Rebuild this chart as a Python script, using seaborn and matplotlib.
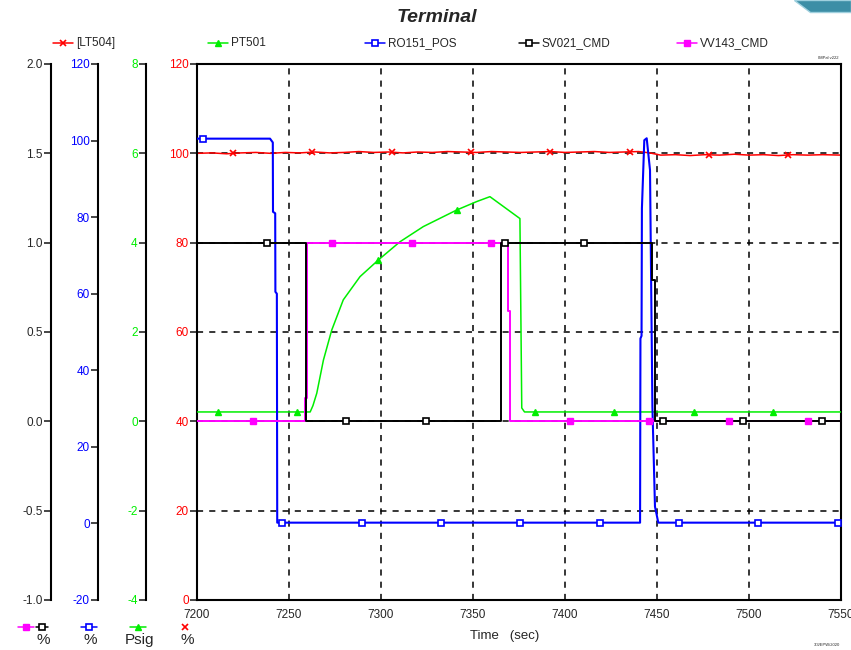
import numpy as np
import matplotlib.pyplot as plt
import seaborn as sns
from matplotlib.lines import Line2D
from matplotlib.patches import Polygon

# trend values (time in sec)
lt504_t = [7200, 7208, 7216, 7224, 7232, 7240, 7248, 7256, 7264, 7272, 7280, 7288, 7296, 7304,
           7312, 7320, 7328, 7336, 7344, 7352, 7360, 7368, 7376, 7384, 7392, 7400, 7408, 7416,
           7424, 7432, 7440, 7446, 7452, 7460, 7468, 7476, 7484, 7492, 7500, 7508, 7516, 7524,
           7532, 7540, 7550]
lt504_v = [100.0, 100.1, 99.9, 100.1, 100.2, 100.0, 100.2, 100.1, 100.3, 100.1, 100.2, 100.4,
           100.2, 100.3, 100.1, 100.3, 100.2, 100.4, 100.3, 100.2, 100.4, 100.3, 100.2, 100.3,
           100.4, 100.2, 100.3, 100.4, 100.2, 100.3, 100.4, 100.1, 99.6, 99.7, 99.5, 99.7, 99.6,
           99.8, 99.6, 99.7, 99.5, 99.7, 99.6, 99.7, 99.6]

pt501_t = [7200, 7261.5, 7263.0, 7265.1, 7268.7, 7273.2, 7279.5, 7288.6, 7298.5, 7310.3,
           7323.0, 7341.1, 7352.0, 7359.2, 7375.5, 7376.5, 7378.0, 7550]
pt501_v = [0.21, 0.21, 0.35, 0.63, 1.37, 2.04, 2.72, 3.24, 3.61, 4.02, 4.36, 4.73, 4.92,
           5.03, 4.54, 0.30, 0.21, 0.21]

ro151_t = [7200, 7239.7, 7241.2, 7241.3, 7242.5, 7242.6, 7243.4, 7243.6, 7440.8, 7441.0,
           7441.6, 7441.8, 7443.1, 7444.4, 7446.2, 7447.5, 7448.9, 7450.7, 7550]
ro151_v = [100.5, 100.5, 99.5, 81.4, 81.0, 60.5, 60.0, 0.2, 0.2, 48.3, 49.0, 82.3, 100.1,
           100.6, 92.3, 30.5, 4.4, 0.2, 0.2]

sv021_t = [7200, 7259.5, 7259.5, 7365.0, 7365.0, 7447.1, 7447.1, 7448.9, 7448.9, 7550]
sv021_v = [1, 1, 0, 0, 1, 1, 0.79, 0.79, 0, 0]

vv143_t = [7200, 7258.9, 7258.9, 7259.6, 7259.6, 7369.2, 7369.2, 7370.1, 7370.1, 7550]
vv143_v = [0, 0, 0.13, 0.13, 1, 1, 0.62, 0.62, 0, 0]

# symbol positions on each trace
lt504_mk_t = [7219.6, 7262.7, 7305.8, 7348.9, 7392.0, 7435.1, 7478.2, 7521.3]
lt504_mk_v = [100.0, 100.2, 100.2, 100.3, 100.2, 100.3, 99.6, 99.7]
pt501_mk_t = [7211.4, 7254.5, 7298.5, 7341.1, 7383.8, 7426.9, 7470.0, 7513.1]
pt501_mk_v = [0.21, 0.21, 3.61, 4.73, 0.21, 0.21, 0.21, 0.21]
ro151_mk_t = [7203.3, 7246.4, 7289.5, 7332.6, 7375.7, 7418.8, 7461.9, 7505.0, 7548.1]
ro151_mk_v = [100.5, 0.2, 0.2, 0.2, 0.2, 0.2, 0.2, 0.2, 0.2]
sv021_mk_t = [7238.0, 7281.1, 7324.2, 7367.3, 7410.4, 7453.5, 7496.6, 7539.7]
sv021_mk_v = [1, 0, 0, 1, 1, 0, 0, 0]
vv143_mk_t = [7230.4, 7273.5, 7316.6, 7359.7, 7402.8, 7445.9, 7489.0, 7532.1]
vv143_mk_v = [0, 1, 1, 1, 0, 0, 0, 0]

names = ['[LT504]', 'PT501', 'RO151_POS', 'SV021_CMD', 'VV143_CMD']

RED, GREEN, BLUE, BLACK, MAG = '#ff0000', '#00ee00', '#0000ff', '#000000', '#ff00ff'

sns.set_style('white')
plt.rcParams['font.family'] = ['Liberation Sans', 'DejaVu Sans']
plt.rcParams['axes.unicode_minus'] = False

fig = plt.figure(figsize=(8.51, 6.5), dpi=100)
ax = fig.add_axes([197 / 851, 50 / 650, 644 / 851, 536 / 650])

# red axis is the main one, the others hang off to the left
ax_g = ax.twinx()
ax_b = ax.twinx()
ax_k = ax.twinx()
for a, pos in [(ax_g, -0.0792), (ax_b, -0.1537), (ax_k, -0.2267)]:
    a.spines['left'].set_position(('axes', pos))
    a.spines['left'].set_visible(True)
    a.spines['left'].set_linewidth(1.5)
    a.spines['left'].set_color('black')
    for s in ['right', 'top', 'bottom']:
        a.spines[s].set_visible(False)
    a.yaxis.set_ticks_position('left')
    a.yaxis.set_label_position('left')
    a.tick_params(axis='y', direction='out', length=5, width=1.2, pad=1, labelsize=8.5)

for s in ax.spines.values():
    s.set_linewidth(1.5)
    s.set_color('black')

ax.set_xlim(7200, 7550)
ax.set_ylim(0, 120)
ax.set_xticks(np.arange(7200, 7551, 50))
ax.set_yticks(np.arange(0, 121, 20))
ax.tick_params(axis='x', direction='inout', length=9, width=1.2, labelsize=8.5, pad=2)
ax.tick_params(axis='y', direction='out', length=5, width=1.2, labelsize=8.5, pad=1,
               labelcolor=RED)
ax.grid(True, linestyle=(0, (4, 4)), color='black', linewidth=1.1)

ax_g.set_ylim(-4, 8)
ax_g.set_yticks(np.arange(-4, 9, 2))
ax_g.tick_params(axis='y', labelcolor=GREEN)
ax_b.set_ylim(-20, 120)
ax_b.set_yticks(np.arange(-20, 121, 20))
ax_b.tick_params(axis='y', labelcolor=BLUE)
ax_k.set_ylim(-1, 2)
ax_k.set_yticks(np.arange(-1, 2.01, 0.5))
ax_k.set_yticklabels([f'{v:.1f}' for v in np.arange(-1, 2.01, 0.5)])

# traces
sns.lineplot(x=lt504_t, y=lt504_v, ax=ax, color=RED, lw=1.1, estimator=None, sort=False)
sns.lineplot(x=pt501_t, y=pt501_v, ax=ax_g, color=GREEN, lw=1.1, estimator=None, sort=False)
sns.lineplot(x=vv143_t, y=vv143_v, ax=ax_k, color=MAG, lw=1.4, estimator=None, sort=False)
sns.lineplot(x=sv021_t, y=sv021_v, ax=ax_k, color=BLACK, lw=1.4, estimator=None, sort=False)
sns.lineplot(x=ro151_t, y=ro151_v, ax=ax_b, color=BLUE, lw=1.5, estimator=None, sort=False)

mk_style = {
    'red': dict(marker='x', color=RED, ms=5, mew=1.2),
    'green': dict(marker='^', color=GREEN, ms=5),
    'blue': dict(marker='s', color=BLUE, mfc='white', ms=5, mew=1.2),
    'black': dict(marker='s', color=BLACK, mfc='white', ms=5, mew=1.2),
    'mag': dict(marker='s', color=MAG, ms=4.5),
}
ax.plot(lt504_mk_t, lt504_mk_v, ls='none', **mk_style['red'])
ax_g.plot(pt501_mk_t, pt501_mk_v, ls='none', **mk_style['green'])
ax_k.plot(vv143_mk_t, vv143_mk_v, ls='none', **mk_style['mag'])
ax_k.plot(sv021_mk_t, sv021_mk_v, ls='none', **mk_style['black'])
ax_b.plot(ro151_mk_t, ro151_mk_v, ls='none', **mk_style['blue'])

for a in [ax, ax_g, ax_b, ax_k]:
    a.set_xlabel('')
    a.set_ylabel('')
ax.set_xlim(7200, 7550)


def key(x0, x1, y, **kw):
    # short line with its symbol in the middle, figure pixel coords
    fig.add_artist(Line2D([x0 / 851, (x0 + x1) / 2 / 851, x1 / 851], [1 - y / 650] * 3,
                          transform=fig.transFigure, markevery=[1], lw=1.1, **kw))


# legend row at the top
for x0, c, name in zip([53, 208, 365, 519, 677], ['red', 'green', 'blue', 'black', 'mag'], names):
    key(x0, x0 + 20, 43, **mk_style[c])
    fig.text((x0 + 23) / 851, 1 - 43 / 650, name, fontsize=8.5, ha='left', va='center')

fig.text(437 / 851, 1 - 17 / 650, 'Terminal', fontsize=14, fontweight='bold',
         fontstyle='italic', ha='center', va='center')
fig.text(505 / 851, 1 - 636 / 650, 'Time   (sec)', fontsize=9.5, ha='center', va='center')

# unit keys under each axis
key(18, 34, 627, **mk_style['mag'])
key(36, 48, 627, **mk_style['black'])
key(81, 97, 627, **mk_style['blue'])
key(130, 146, 627, **mk_style['green'])
fig.add_artist(Line2D([185 / 851], [1 - 627 / 650], transform=fig.transFigure, ls='none',
                      **mk_style['red']))
for x, t in [(43, '%'), (90, '%'), (139, 'Psig'), (187, '%')]:
    fig.text(x / 851, 1 - 640 / 650, t, fontsize=11, ha='center', va='center')

fig.text(838 / 851, 1 - 58 / 650, 'IMPal v222', fontsize=3, ha='right', va='center')
fig.text(840 / 851, 1 - 645 / 650, '3/3/EPW/2020', fontsize=3, ha='right', va='center')

fig.add_artist(Polygon([[794 / 851, 1], [1, 1], [1, 1 - 12 / 650], [810 / 851, 1 - 12 / 650]],
                       closed=True, transform=fig.transFigure, facecolor='#3c8ea6',
                       edgecolor='#9fd0de', lw=1))

fig.savefig('out.png', dpi=100)
